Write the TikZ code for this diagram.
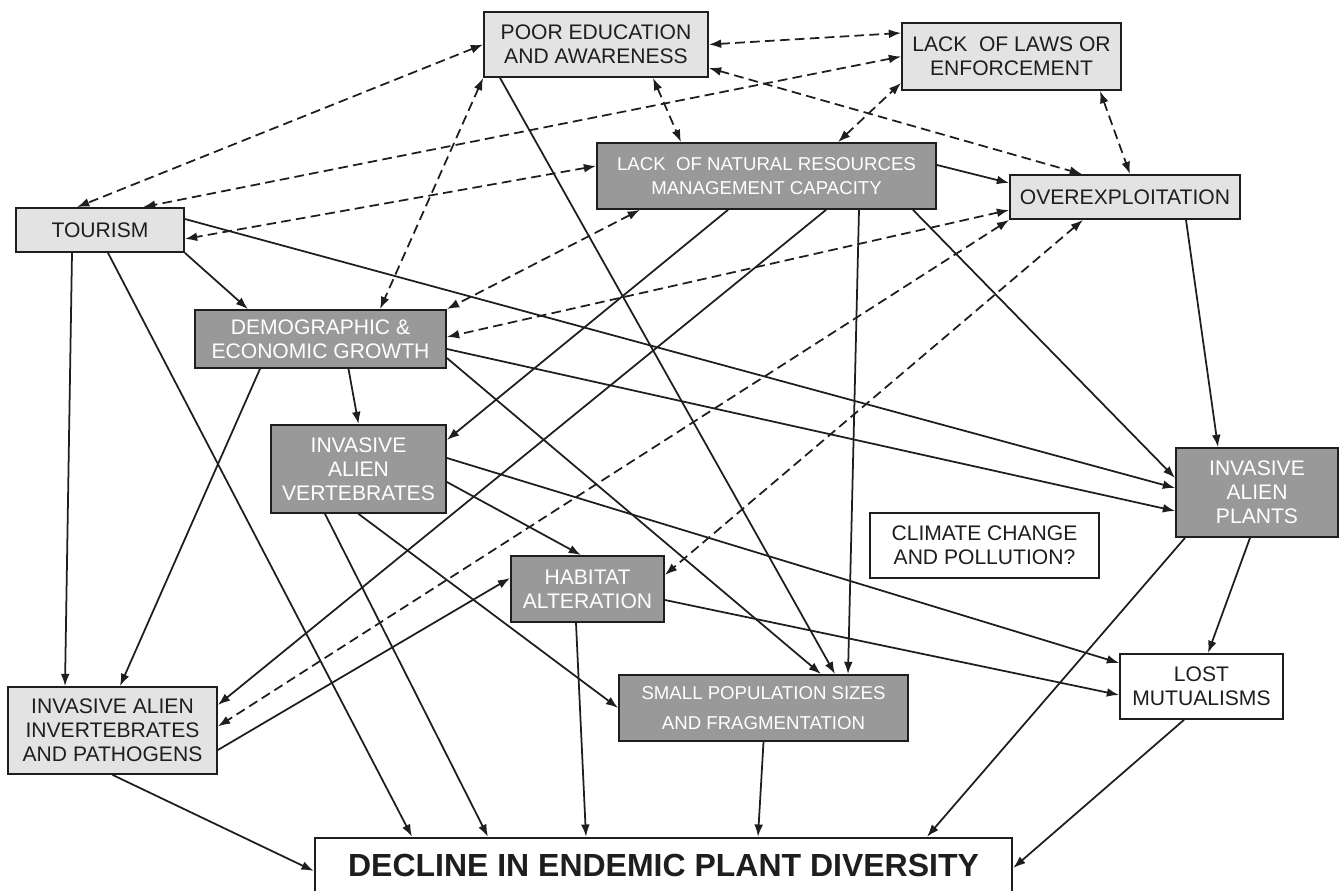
\documentclass[tikz,border=0pt]{standalone}
\usepackage{fontspec}
\setmainfont{Liberation Sans}
\usetikzlibrary{arrows.meta}
\definecolor{paleFill}{RGB}{227,227,227}
\definecolor{dimFill}{RGB}{153,153,153}
\definecolor{ink}{RGB}{30,30,30}

\begin{document}
\begin{tikzpicture}[>={Latex[length=7pt,width=5pt]},font=\fontsize{12}{13.7}\selectfont]
\tikzstyle{pale}=[rectangle,draw=ink,line width=1pt,fill=paleFill,text=ink,align=center,inner sep=0pt]
\tikzstyle{dim}=[rectangle,draw=ink,line width=1pt,fill=dimFill,text=white,align=center,inner sep=0pt]
\tikzstyle{bare}=[rectangle,draw=ink,line width=1pt,fill=white,text=ink,align=center,inner sep=0pt]
\tikzstyle{goal}=[rectangle,draw=ink,line width=1.4pt,fill=white,text=ink,inner sep=0pt,font=\fontsize{18.2}{20}\selectfont\bfseries]
\tikzstyle{small}=[font=\fontsize{10.6}{13.7}\selectfont]
\tikzstyle{cause}=[->,line width=1pt,draw=ink]
\tikzstyle{mutual}=[<->,line width=1pt,draw=ink,dash pattern=on 5.5pt off 3pt]

\useasboundingbox (0,0) rectangle (26.86,17.8);

\node[pale,minimum width=4.48cm,minimum height=1.30cm] (poorEdu)  at (11.92,16.91) {POOR EDUCATION\\AND AWARENESS};
\node[pale,minimum width=4.38cm,minimum height=1.34cm] (lackLaws) at (20.23,16.67) {LACK\ \ OF LAWS OR\\ENFORCEMENT};
\node[dim,small,minimum width=6.78cm,minimum height=1.32cm] (lackNat) at (15.33,14.28) {LACK\ \ OF NATURAL RESOURCES\\MANAGEMENT CAPACITY};
\node[pale,minimum width=4.60cm,minimum height=0.88cm] (overEx)   at (22.50,13.86) {OVEREXPLOITATION};
\node[pale,minimum width=3.36cm,minimum height=0.88cm] (tourism)  at (2.00,13.20)  {TOURISM};

\node[dim,minimum width=5.02cm,minimum height=1.16cm]  (demoGrowth)  at (6.41,11.02)  {DEMOGRAPHIC \&\\ECONOMIC GROWTH};
\node[dim,minimum width=3.50cm,minimum height=1.76cm]  (alienVert)   at (7.17,8.42)   {INVASIVE\\ALIEN\\VERTEBRATES};
\node[dim,minimum width=3.24cm,minimum height=1.78cm]  (alienPlants) at (25.14,7.95)  {INVASIVE\\ALIEN\\PLANTS};
\node[bare,minimum width=4.58cm,minimum height=1.30cm] (climate)     at (19.69,6.89)  {CLIMATE CHANGE\\AND POLLUTION?};
\node[dim,minimum width=3.06cm,minimum height=1.32cm]  (habitat)     at (11.75,6.02)  {HABITAT\\ALTERATION};

\node[bare,minimum width=3.26cm,minimum height=1.30cm] (lostMut)  at (24.03,4.07) {LOST\\MUTUALISMS};
\node[dim,small,minimum width=5.78cm,minimum height=1.32cm] (smallPop) at (15.27,3.64) {SMALL POPULATION SIZES\\[3.4pt]AND FRAGMENTATION};
\node[pale,minimum width=4.18cm,minimum height=1.74cm] (alienInv) at (2.25,3.19)  {INVASIVE ALIEN\\INVERTEBRATES\\AND PATHOGENS};
\node[goal,minimum width=13.94cm,minimum height=1.10cm] (decline) at (13.27,0.49) {DECLINE IN ENDEMIC PLANT DIVERSITY};

% two-way links
\draw[mutual] (poorEdu.west) -- ([xshift=-0.46cm]tourism.north);
\draw[mutual] (lackLaws.west) -- ([xshift=0.86cm]tourism.north);
\draw[mutual] ([yshift=0.2cm]lackNat.west) -- ([yshift=-0.18cm]tourism.east);
\draw[mutual] (poorEdu.south west) -- ([xshift=1.19cm]demoGrowth.north);
\draw[mutual] ([xshift=1.14cm]poorEdu.south) -- ([xshift=-1.71cm]lackNat.north);
\draw[mutual] (poorEdu.east) -- ([yshift=0.47cm]lackLaws.west);
\draw[mutual] ([yshift=-0.47cm]poorEdu.east) -- ([xshift=-0.86cm]overEx.north);
\draw[mutual] ([xshift=1.43cm]lackNat.north) -- ([yshift=0.16cm]lackLaws.south west);
\draw[mutual] ([xshift=1.77cm]lackLaws.south) -- ([xshift=0.1cm]overEx.north);
\draw[mutual] ([xshift=-2.53cm]lackNat.south) -- (demoGrowth.north east);
\draw[mutual] ([yshift=-0.26cm]overEx.west) -- ([yshift=0.04cm]demoGrowth.east);
\draw[mutual] (overEx.south west) -- ([yshift=0.08cm]alienInv.east);
\draw[mutual] ([xshift=-0.84cm]overEx.south) -- ([yshift=0.28cm]habitat.east);

% drivers
\draw[cause] (tourism.south east) -- ([xshift=-1.45cm]demoGrowth.north);
\draw[cause] ([yshift=0.22cm]tourism.east) -- ([yshift=0.09cm]alienPlants.west);
\draw[cause] ([xshift=-0.56cm]tourism.south) -- ([xshift=-0.95cm]alienInv.north);
\draw[cause] ([xshift=0.16cm]tourism.south) -- ([xshift=-5.03cm]decline.north);
\draw[cause] ([yshift=-0.2cm]demoGrowth.east) -- ([yshift=-0.37cm]alienPlants.west);
\draw[cause] ([yshift=-0.38cm]demoGrowth.east) -- ([xshift=1.15cm]smallPop.north);
\draw[cause] ([xshift=0.56cm]demoGrowth.south) -- (alienVert.north);
\draw[cause] ([xshift=-1.21cm]demoGrowth.south) -- ([xshift=0.15cm]alienInv.north);
\draw[cause] ([xshift=-1.92cm]poorEdu.south) -- ([xshift=1.43cm]smallPop.north);
\draw[cause] ([yshift=0.22cm]lackNat.east) -- ([yshift=0.28cm]overEx.west);
\draw[cause] ([xshift=-0.77cm]lackNat.south) -- ([yshift=0.58cm]alienVert.east);
\draw[cause] ([xshift=1.19cm]lackNat.south) -- ([yshift=0.51cm]alienInv.east);
\draw[cause] ([xshift=1.85cm]lackNat.south) -- ([xshift=1.69cm]smallPop.north);
\draw[cause] ([xshift=2.93cm]lackNat.south) -- ([yshift=0.29cm]alienPlants.west);
\draw[cause] ([xshift=1.22cm]overEx.south) -- ([xshift=-0.78cm]alienPlants.north);

% threats
\draw[cause] ([xshift=-0.67cm]alienVert.south) -- ([xshift=-3.51cm]decline.north);
\draw[cause] (alienVert.south) -- (smallPop.west);
\draw[cause] ([yshift=-0.26cm]alienVert.east) -- ([xshift=-0.13cm]habitat.north);
\draw[cause] ([yshift=0.22cm]alienVert.east) -- ([yshift=0.47cm]lostMut.west);
\draw[cause] ([yshift=-0.22cm]habitat.east) -- ([yshift=-0.17cm]lostMut.west);
\draw[cause] ([xshift=-0.23cm]habitat.south) -- ([xshift=-1.55cm]decline.north);
\draw[cause] (smallPop.south) -- ([xshift=1.89cm]decline.north);
\draw[cause] (alienInv.south) -- ([yshift=-0.11cm]decline.west);
\draw[cause] ([yshift=-0.39cm]alienInv.east) -- ([yshift=0.22cm]habitat.west);
\draw[cause] ([xshift=-1.44cm]alienPlants.south) -- ([xshift=5.27cm]decline.north);
\draw[cause] ([xshift=-0.14cm]alienPlants.south) -- ([xshift=0.13cm]lostMut.north);
\draw[cause] ([xshift=-0.35cm]lostMut.south) -- ([yshift=-0.05cm]decline.east);

\end{tikzpicture}
\end{document}
